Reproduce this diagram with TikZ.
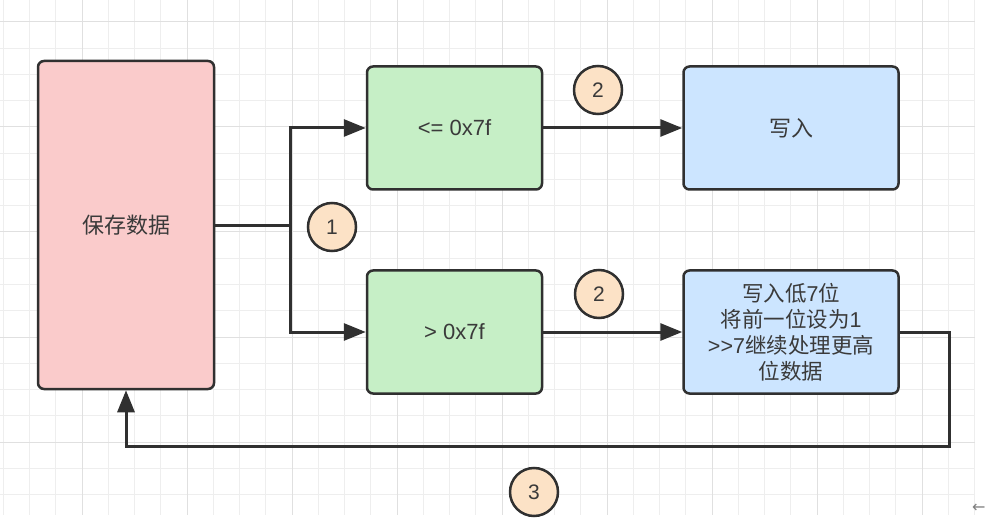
\documentclass[tikz,border=0pt]{standalone}
\usepackage{fontspec}
\setmainfont{Liberation Sans}
\newfontfamily\cjk{Noto Sans CJK SC}
\newfontfamily\symf{DejaVu Sans}
\usetikzlibrary{arrows.meta}
\definecolor{pinkfill}{HTML}{FACBCB}
\definecolor{greenfill}{HTML}{C6EFC6}
\definecolor{bluefill}{HTML}{CCE5FF}
\definecolor{peach}{HTML}{FCE2C6}
\definecolor{edge}{HTML}{303030}
\definecolor{txt}{HTML}{3A3A3A}
\definecolor{gridminor}{HTML}{EEEEEE}
\definecolor{gridmajor}{HTML}{E0E0E0}
\tikzset{
  box/.style={draw=edge, line width=2.5pt, rounded corners=6pt, text=txt,
    align=center, inner sep=0pt, font=\fontsize{22}{26}\selectfont},
  cjkbox/.style={box, font=\cjk\fontsize{22}{26}\selectfont},
  numc/.style={circle, draw=edge, line width=2.5pt, fill=peach, minimum size=48pt,
    inner sep=0pt, text=txt, font=\fontsize{21}{24}\selectfont},
  conn/.style={draw=edge, line width=3pt},
  arr/.style={conn, -{Triangle[length=22pt,width=17pt]}},
}
\begin{document}
\begin{tikzpicture}[x=1pt,y=-1pt]
\useasboundingbox (0,0) rectangle (985,529);
\fill[white] (0,0) rectangle (985,529);
% grid
\foreach \i in {0,...,37} {
  \pgfmathsetmacro{\gx}{3.25+26.25*\i}
  \draw[gridminor, line width=1pt] (\gx,0) -- (\gx,515);
}
\foreach \j in {1,...,19} {
  \pgfmathsetmacro{\gy}{-4.25+26.25*\j}
  \draw[gridminor, line width=1pt] (0,\gy) -- (975,\gy);
}
\foreach \i in {0,...,9} {
  \pgfmathsetmacro{\gx}{82-105*1+105*\i}
  \draw[gridmajor, line width=1pt] (\gx,0) -- (\gx,515);
}
\foreach \j in {0,...,4} {
  \pgfmathsetmacro{\gy}{22+105*\j}
  \draw[gridmajor, line width=1pt] (0,\gy) -- (975,\gy);
}
% boxes
\node[cjkbox, fill=pinkfill, minimum width=176pt, minimum height=328pt] (pink) at (126,225) {保存数据};
\node[box, fill=greenfill, minimum width=175pt, minimum height=123pt] (g1) at (454.5,128) {<= 0x7f};
\node[box, fill=greenfill, minimum width=175pt, minimum height=123pt] (g2) at (454.5,332) {{>} 0x7f};
\node[cjkbox, fill=bluefill, minimum width=215pt, minimum height=123pt] (b1) at (791,128) {写入};
\node[box, fill=bluefill, minimum width=215pt, minimum height=123pt, font=\fontsize{21.5}{26}\selectfont] (b2) at (791,332)
  {{\cjk 写入低}7{\cjk 位}\\{\cjk 将前一位设为}1\\{>}{>}7{\cjk 继续处理更高}\\{\cjk 位数据}};
% connectors
\coordinate (split) at (290,226);
\draw[conn] (pink.east |- split) -- (split);
\draw[arr] (split) |- (g1.west);
\draw[arr] (split) |- (g2.west);
\draw[arr] (g1.east) -- (b1.west);
\draw[arr] (g2.east) -- (b2.west);
\coordinate (back) at (949,446);
\draw[arr] (b2.east) -| (back) -| (pink.south);
% numbers
\node[numc] (n1) at (332,227) {1};
\node[numc] (n2a) at (598,90) {2};
\node[numc] (n2b) at (599,294) {2};
\node[numc] (n3) at (534,492) {3};
\node[text=gray, font=\symf\fontsize{16}{18}\selectfont, anchor=west, inner sep=0pt] (arrowmark) at (972,508) {←};
\end{tikzpicture}
\end{document}
